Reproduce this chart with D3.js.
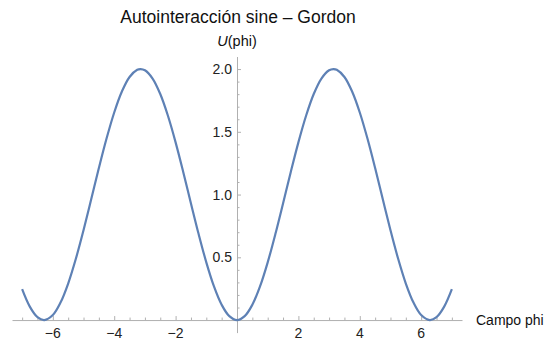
<!DOCTYPE html>
<html>
<head>
<meta charset="utf-8">
<script src="https://cdn.jsdelivr.net/npm/d3@7"></script>
<style>
  body { margin: 0; background: #fff; }
  text { font-family: "Liberation Sans", Arial, sans-serif; }
</style>
</head>
<body>
<svg id="chart" width="545" height="346"></svg>
<script>
// U(phi)
const phi = [-7, -6.75, -6.5, -6.28, -6, -5.75, -5.5, -5.25, -5, -4.75, -4.5, -4.25, -4, -3.75, -3.5, -3.25, -3.14, -3,
    -2.75, -2.5, -2.25, -2, -1.75, -1.5, -1.25, -1, -0.75, -0.5, -0.25, 0,
    0.25, 0.5, 0.75, 1, 1.25, 1.5, 1.75, 2, 2.25, 2.5, 2.75, 3, 3.14, 3.25, 3.5, 3.75, 4, 4.25, 4.5, 4.75,
    5, 5.25, 5.5, 5.75, 6, 6.28, 6.5, 6.75, 7];
const U = [0.246, 0.107, 0.023, 0, 0.040, 0.139, 0.291, 0.488, 0.716, 0.962, 1.211, 1.446, 1.654, 1.821, 1.937, 1.994, 2.000, 1.990,
    1.924, 1.801, 1.628, 1.416, 1.178, 0.929, 0.685, 0.460, 0.268, 0.122, 0.031, 0,
    0.031, 0.122, 0.268, 0.460, 0.685, 0.929, 1.178, 1.416, 1.628, 1.801, 1.924, 1.990, 2.000, 1.994, 1.937, 1.821, 1.654, 1.446, 1.211, 0.962,
    0.716, 0.488, 0.291, 0.139, 0.040, 0, 0.023, 0.107, 0.246];

const xMajor = [-6, -4, -2, 2, 4, 6];
const yMajor = [0.5, 1.0, 1.5, 2.0];
const title = 'Autointeracción sine – Gordon';
const xLabel = 'Campo phi';

const points = phi.map((p, i) => ({ p: p, u: U[i] }));

const x = d3.scaleLinear()
    .domain([-7.33, 7.33])
    .range([12, 462]);

const y = d3.scaleLinear()
    .domain([-0.1, 2.1])
    .range([332.6, 56.5]);

const svg = d3.select('#chart');
const axisColor = '#b0b0b0';
const fmt = d => d3.format('.1f')(d);
const minus = s => String(s).replace('-', '\u2212');

// x axis: minor ticks every 0.5, ticks point up
const xAxis = d3.axisTop(x)
    .tickValues(d3.range(-7, 7.01, 0.5).filter(v => v !== 0))
    .tickSize(0)
    .tickFormat('');
const gx = svg.append('g')
    .attr('transform', `translate(0, ${y(0)})`)
    .call(xAxis);
gx.select('.domain').attr('stroke', axisColor);
gx.selectAll('.tick line')
    .attr('stroke', axisColor)
    .attr('y2', d => xMajor.includes(d) ? -4 : -2.5);

svg.append('g')
    .selectAll('text')
    .data(xMajor)
    .enter()
    .append('text')
    .attr('x', d => x(d))
    .attr('y', y(0) + 18)
    .attr('text-anchor', 'middle')
    .attr('font-size', 14)
    .attr('fill', '#222')
    .text(d => minus(d));

// y axis: minor ticks every 0.1, ticks point right
const yAxis = d3.axisRight(y)
    .tickValues(d3.range(1, 21).map(v => v / 10))
    .tickSize(0)
    .tickFormat('');
const gy = svg.append('g')
    .attr('transform', `translate(${x(0)}, 0)`)
    .call(yAxis);
gy.select('.domain').attr('stroke', axisColor);
gy.selectAll('.tick line')
    .attr('stroke', axisColor)
    .attr('x2', d => yMajor.some(m => Math.abs(m - d) < 1e-6) ? 4 : 2.5);

svg.append('g')
    .selectAll('text')
    .data(yMajor)
    .enter()
    .append('text')
    .attr('x', x(0) - 5)
    .attr('y', d => y(d) + 5)
    .attr('text-anchor', 'end')
    .attr('font-size', 14)
    .attr('fill', '#222')
    .text(d => fmt(d));

// curve
const line = d3.line()
    .x(d => x(d.p))
    .y(d => y(d.u))
    .curve(d3.curveCatmullRom.alpha(0.5));

svg.append('path')
    .datum(points)
    .attr('d', line)
    .attr('fill', 'none')
    .attr('stroke', '#5e81b5')
    .attr('stroke-width', 2.2);

// labels
svg.append('text')
    .attr('x', 238)
    .attr('y', 23)
    .attr('text-anchor', 'middle')
    .attr('font-size', 17.5)
    .attr('fill', '#111')
    .text(title);

const ylab = svg.append('text')
    .attr('x', x(0))
    .attr('y', 46)
    .attr('text-anchor', 'middle')
    .attr('font-size', 14.5)
    .attr('fill', '#111');
ylab.append('tspan').attr('font-style', 'italic').text('U');
ylab.append('tspan').text('(phi)');

svg.append('text')
    .attr('x', 476)
    .attr('y', y(0) + 5)
    .attr('font-size', 14)
    .attr('fill', '#111')
    .text(xLabel);
</script>
</body>
</html>
